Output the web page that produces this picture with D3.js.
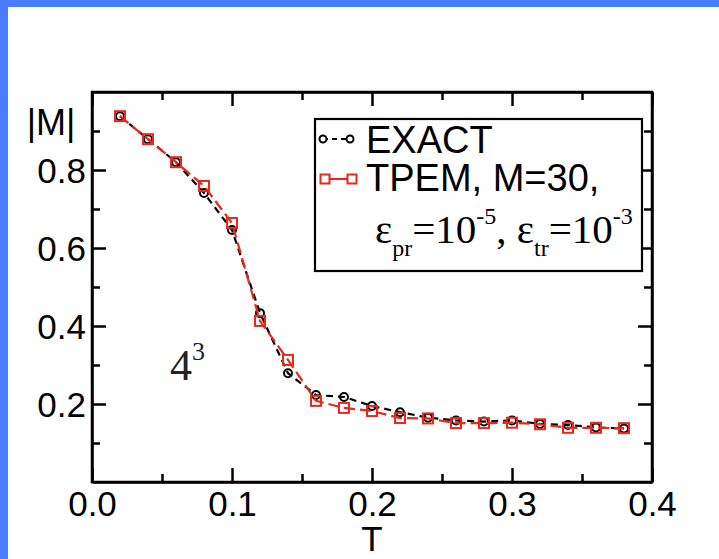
<!DOCTYPE html>
<html>
<head>
<meta charset="utf-8">
<script src="https://cdn.jsdelivr.net/npm/d3@7"></script>
<style>
  body { margin: 0; background: #fff; }
  svg { display: block; }
  .axis path, .axis line { stroke: #000; stroke-width: 2.5px; }
  .axis text { font-family: "Liberation Sans", Arial, sans-serif; font-size: 35px; fill: #000; }
</style>
</head>
<body>
<script>
// data
const temps = [0.02, 0.04, 0.06, 0.08, 0.10, 0.12, 0.14, 0.16, 0.18, 0.20,
               0.22, 0.24, 0.26, 0.28, 0.30, 0.32, 0.34, 0.36, 0.38];
const exactM = [0.938, 0.879, 0.820, 0.741, 0.646, 0.433, 0.279, 0.223, 0.218, 0.195,
                0.179, 0.165, 0.158, 0.155, 0.158, 0.149, 0.146, 0.140, 0.137];
const tpemM = [0.938, 0.879, 0.820, 0.759, 0.664, 0.413, 0.313, 0.208, 0.190, 0.182,
               0.164, 0.163, 0.151, 0.151, 0.152, 0.148, 0.139, 0.139, 0.138];
const xMajor = [0, 0.1, 0.2, 0.3, 0.4];
const xMinor = [0.05, 0.15, 0.25, 0.35];
const yMajor = [0.2, 0.4, 0.6, 0.8];
const yMinor = [0.1, 0.3, 0.5, 0.7, 0.9];

const W = 719, H = 559;
const frame = { left: 92, right: 652, top: 92, bottom: 482 };

const svg = d3.select('body').append('svg')
    .attr('width', W)
    .attr('height', H);

// slide background: blue edge on top and left
svg.append('rect').attr('width', W).attr('height', H).attr('fill', '#4a7dfd');
svg.append('rect').attr('x', 8).attr('y', 7).attr('width', W - 8).attr('height', H - 7).attr('fill', '#fff');

const x = d3.scaleLinear().domain([0, 0.4]).range([frame.left, frame.right]);
const y = d3.scaleLinear().domain([0, 1]).range([frame.bottom, frame.top]);

const fmt = d3.format('.1f');

// axes, ticks pointing inwards on all four sides
function drawAxis(axisFn, scale, pos, major, minor, labels) {
    const g = svg.append('g').attr('class', 'axis').attr('transform', pos);
    g.call(axisFn(scale).tickValues(major).tickSizeInner(-14).tickSizeOuter(0)
        .tickPadding(labels ? 22 : 0).tickFormat(labels ? fmt : ''));
    const m = svg.append('g').attr('class', 'axis').attr('transform', pos);
    m.call(axisFn(scale).tickValues(minor).tickSizeInner(-8).tickSizeOuter(0).tickFormat(''));
    m.select('.domain').remove();
    return g;
}

const xb = drawAxis(d3.axisBottom, x, `translate(0,${frame.bottom})`, xMajor, xMinor, true);
xb.selectAll('text').attr('dy', '0.71em').attr('y', 9);
drawAxis(d3.axisTop, x, `translate(0,${frame.top})`, xMajor, xMinor, false);
const yl = drawAxis(d3.axisLeft, y, `translate(${frame.left},0)`, yMajor, yMinor, true);
yl.selectAll('text').attr('x', -6).attr('dy', '0.36em');
drawAxis(d3.axisRight, y, `translate(${frame.right},0)`, yMajor, yMinor, false);

// axis titles
svg.append('text')
    .attr('x', (frame.left + frame.right) / 2).attr('y', 551)
    .attr('text-anchor', 'middle')
    .style('font-family', '"Liberation Sans", Arial, sans-serif').style('font-size', '35px')
    .text('T');
svg.append('text')
    .attr('x', 51).attr('y', 135)
    .attr('text-anchor', 'middle')
    .style('font-family', '"Liberation Sans", Arial, sans-serif').style('font-size', '36px')
    .text('|M|');

// series
const line = d3.line().x(d => x(d[0])).y(d => y(d[1]));
const exactPts = temps.map((t, i) => [t, exactM[i]]);
const tpemPts = temps.map((t, i) => [t, tpemM[i]]);

svg.append('path').datum(exactPts)
    .attr('d', line).attr('fill', 'none')
    .attr('stroke', '#000').attr('stroke-width', 2.2).attr('stroke-dasharray', '7,5');
svg.append('g').selectAll('circle').data(exactPts).enter().append('circle')
    .attr('cx', d => x(d[0])).attr('cy', d => y(d[1])).attr('r', 4)
    .attr('fill', 'none').attr('stroke', '#000').attr('stroke-width', 2);

const red = '#e8281c';
svg.append('path').datum(tpemPts)
    .attr('d', line).attr('fill', 'none')
    .attr('stroke', red).attr('stroke-width', 2.2).attr('stroke-dasharray', '11,5');
svg.append('g').selectAll('rect').data(tpemPts).enter().append('rect')
    .attr('x', d => x(d[0]) - 5).attr('y', d => y(d[1]) - 5)
    .attr('width', 10).attr('height', 10)
    .attr('fill', 'none').attr('stroke', red).attr('stroke-width', 2);

// frame
svg.append('rect')
    .attr('x', frame.left).attr('y', frame.top)
    .attr('width', frame.right - frame.left).attr('height', frame.bottom - frame.top)
    .attr('fill', 'none').attr('stroke', '#000').attr('stroke-width', 2.5);

// legend
const lg = svg.append('g');
lg.append('rect')
    .attr('x', 315).attr('y', 119).attr('width', 327).attr('height', 152)
    .attr('fill', '#fff').attr('stroke', '#000').attr('stroke-width', 2.2);

lg.append('line').attr('x1', 323).attr('x2', 350).attr('y1', 139).attr('y2', 139)
    .attr('stroke', '#000').attr('stroke-width', 2).attr('stroke-dasharray', '5,4');
[323, 350].forEach(cx => lg.append('circle').attr('cx', cx).attr('cy', 139).attr('r', 3.5)
    .attr('fill', '#fff').attr('stroke', '#000').attr('stroke-width', 2));
lg.append('line').attr('x1', 325).attr('x2', 352).attr('y1', 179).attr('y2', 179)
    .attr('stroke', red).attr('stroke-width', 2);
[325, 352].forEach(cx => lg.append('rect').attr('x', cx - 4.5).attr('y', 174.5)
    .attr('width', 9).attr('height', 9)
    .attr('fill', '#fff').attr('stroke', red).attr('stroke-width', 2));

const sans = '"Liberation Sans", Arial, sans-serif';
lg.append('text').attr('x', 366).attr('y', 153)
    .style('font-family', sans).style('font-size', '38px').text('EXACT');
lg.append('text').attr('x', 366).attr('y', 191)
    .style('font-family', sans).style('font-size', '38px').text('TPEM, M=30,');

const eps = lg.append('text').attr('x', 375).attr('y', 243)
    .style('font-family', '"Liberation Serif", "Times New Roman", serif').style('font-size', '41px');
eps.append('tspan').text('ε');
eps.append('tspan').attr('dy', 13).style('font-size', '24px').text('pr');
eps.append('tspan').attr('dy', -13).text('=10');
eps.append('tspan').attr('dy', -19).style('font-size', '24px').text('-5');
eps.append('tspan').attr('dy', 19).text(', ε');
eps.append('tspan').attr('dy', 13).style('font-size', '24px').text('tr');
eps.append('tspan').attr('dy', -13).text('=10');
eps.append('tspan').attr('dy', -19).style('font-size', '24px').text('-3');

// lattice size label
const lat = svg.append('text').attr('x', 170).attr('y', 380)
    .style('font-family', '"Liberation Serif", "Times New Roman", serif').style('font-size', '44px')
    .attr('fill', '#222');
lat.append('tspan').text('4');
lat.append('tspan').attr('dy', -20).style('font-size', '26px').text('3');
</script>
</body>
</html>
